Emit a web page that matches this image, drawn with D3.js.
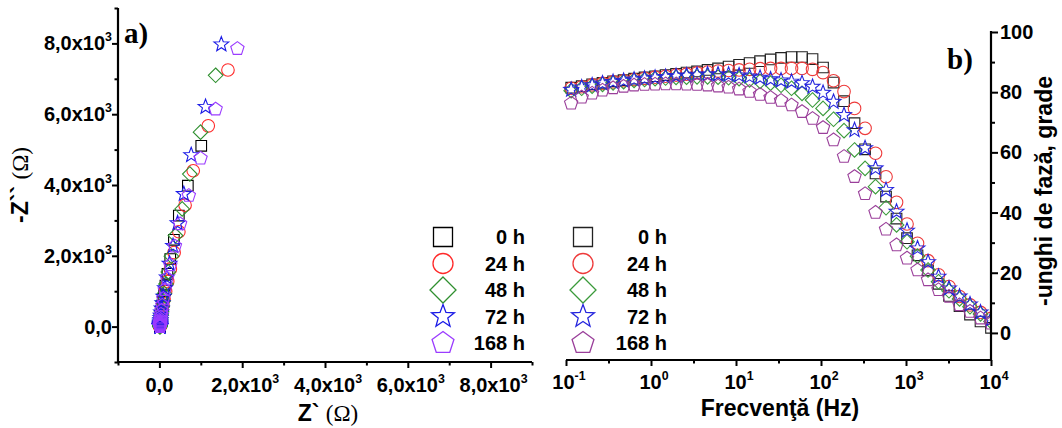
<!DOCTYPE html>
<html><head><meta charset="utf-8">
<script src="https://cdn.jsdelivr.net/npm/d3@7"></script>
<style>
html,body{margin:0;padding:0;background:#fff;}
svg{display:block;}
text{font-family:"Liberation Sans",Arial,sans-serif;font-weight:bold;fill:#000;}
</style></head><body>
<svg id="chart" width="1062" height="428"></svg>
<script>
// ---- immersion times (legend) ----
const seriesNames = ["0 h", "24 h", "48 h", "72 h", "168 h"];
const seriesShapes = ["square", "circle", "diamond", "star", "pentagon"];
const colorsNyquist = ["#000000", "#ff2a2a", "#2f8f2f", "#1a1ae6", "#9b3cff"];
const colorsBode = ["#222222", "#ee3b3b", "#3a9a3a", "#2525dd", "#9a3f9a"];

// ---- a) Nyquist: Z' and -Z'' (ohm) ----
const zRe0h   = [1011, 687, 469, 350, 262, 195, 145, 108, 82, 62, 48, 38, 31, 26, 22, 20, 18, 17, 16, 15, 15, 14, 14, 14, 14, 14, 14, 14, 14, 14];
const zIm0h   = [5107, 3980, 3136, 2450, 1910, 1490, 1160, 905, 705, 550, 428, 334, 260, 203, 158, 123, 96, 75, 58, 45, 35, 27, 21, 16, 12, 8, 5, 3, 1, 0];
const zRe24h  = [1656, 1180, 817, 620, 470, 355, 265, 200, 150, 112, 85, 65, 50, 40, 32, 27, 23, 20, 18, 17, 16, 15, 15, 14, 14, 14, 14, 14, 14, 14];
const zIm24h  = [7248, 5671, 4403, 3430, 2680, 2090, 1630, 1275, 995, 778, 607, 474, 370, 289, 226, 176, 137, 107, 84, 65, 51, 40, 31, 24, 18, 13, 9, 6, 3, 1];
const zRe48h  = [1358, 994, 735, 550, 388, 290, 215, 160, 120, 90, 68, 52, 41, 33, 27, 23, 20, 18, 17, 16, 15, 15, 14, 14, 14, 14, 14, 14, 14, 14];
const zIm48h  = [7099, 5493, 4310, 3324, 2572, 1990, 1545, 1200, 930, 722, 560, 435, 338, 262, 204, 158, 123, 95, 74, 57, 44, 34, 26, 20, 15, 10, 7, 4, 2, 0];
const zRe72h  = [1496, 1115, 768, 590, 440, 330, 245, 180, 135, 100, 75, 56, 43, 34, 28, 24, 21, 19, 18, 17, 16, 15, 15, 14, 14, 14, 14, 14, 14, 14];
const zIm72h  = [7972, 6206, 4845, 3746, 2920, 2280, 1780, 1390, 1085, 845, 660, 515, 400, 312, 243, 189, 147, 114, 88, 68, 52, 40, 30, 22, 16, 11, 7, 4, 2, 0];
const zRe168h = [1884, 1358, 994, 711, 500, 375, 265, 185, 130, 95, 70, 52, 40, 32, 27, 23, 20, 18, 17, 16, 15, 15, 14, 14, 14, 14, 14, 14, 14, 14];
const zIm168h = [7851, 6141, 4752, 3699, 2900, 2270, 1740, 1360, 1040, 790, 600, 455, 345, 262, 199, 151, 115, 87, 66, 50, 38, 29, 22, 16, 12, 8, 5, 3, 1, 0];

// ---- b) Bode: frequency (Hz) and -phase angle (degrees) ----
const frequency = [0.115, 0.153, 0.203, 0.269, 0.358, 0.476, 0.632, 0.840, 1.117, 1.484, 1.972, 2.62, 3.48, 4.63, 6.15, 8.18, 10.87, 14.44, 19.19, 25.5, 33.88, 45.0, 59.8, 79.5, 105.7, 140.4, 186.6, 248, 330, 438, 582, 774, 1028, 1366, 1816, 2413, 3206, 4261, 5662, 7524, 10000];
const phase0h   = [81.5, 82.0, 82.6, 83.1, 83.6, 84.0, 84.5, 84.9, 85.3, 85.7, 86.1, 86.5, 86.9, 87.4, 87.9, 88.5, 89.1, 89.7, 90.3, 90.9, 91.4, 91.7, 91.7, 91.0, 88.2, 83.2, 77.0, 69.7, 61.0, 53.0, 45.3, 38.0, 31.5, 25.8, 20.8, 16.3, 12.3, 8.9, 6.1, 3.8, 1.7];
const phase24h  = [81.3, 81.8, 82.4, 82.9, 83.4, 83.8, 84.2, 84.6, 85.0, 85.3, 85.7, 86.0, 86.4, 86.7, 87.0, 87.2, 87.4, 87.6, 87.8, 87.9, 87.9, 87.9, 87.9, 87.6, 86.5, 83.8, 80.2, 74.6, 68.0, 59.7, 51.9, 43.4, 36.2, 29.8, 24.0, 19.3, 15.4, 12.1, 9.3, 6.8, 4.8];
const phase48h  = [80.5, 81.3, 82.0, 82.6, 83.1, 83.5, 83.9, 84.2, 84.5, 84.7, 84.9, 85.0, 85.1, 85.1, 85.0, 84.8, 84.5, 84.1, 83.6, 83.0, 82.3, 81.3, 79.6, 77.4, 74.6, 71.0, 67.2, 60.8, 54.7, 48.6, 41.6, 35.9, 30.3, 25.5, 20.9, 17.0, 14.0, 11.3, 8.7, 6.3, 3.8];
const phase72h  = [80.8, 81.6, 82.3, 82.9, 83.4, 83.8, 84.2, 84.5, 84.8, 85.1, 85.4, 85.6, 85.8, 85.9, 85.9, 85.8, 85.6, 85.2, 84.8, 84.3, 83.9, 83.5, 83.0, 81.8, 79.8, 76.8, 72.4, 67.4, 61.4, 54.7, 47.5, 40.3, 34.0, 28.1, 23.5, 18.7, 14.8, 12.1, 9.5, 6.8, 4.5];
const phase168h = [76.3, 78.3, 79.6, 80.6, 81.4, 81.9, 82.3, 82.5, 82.6, 82.7, 82.7, 82.6, 82.5, 82.3, 82.0, 81.6, 81.0, 80.2, 79.2, 78.2, 77.2, 75.7, 73.5, 71.2, 68.2, 64.1, 58.6, 51.9, 46.2, 40.0, 34.4, 29.2, 24.8, 20.9, 17.6, 14.3, 12.1, 9.3, 7.1, 4.9, 3.2];

// ---- tick labels ----
const nyqTicks = [0, 2000, 4000, 6000, 8000];
const nyqTickBase = ["0,0", "2,0x10", "4,0x10", "6,0x10", "8,0x10"];
const nyqTickExp = ["", "3", "3", "3", "3"];
const nyqMinor = [-1000, 1000, 3000, 5000, 7000, 9000];
const freqTicks = [0.1, 1, 10, 100, 1000, 10000];
const freqTickExp = ["-1", "0", "1", "2", "3", "4"];
const freqMinor = [0.316, 3.16, 31.6, 316, 3162];
const phaseTicks = [0, 20, 40, 60, 80, 100];
const phaseMinor = [10, 30, 50, 70, 90];

const nyqRe = [zRe0h, zRe24h, zRe48h, zRe72h, zRe168h];
const nyqIm = [zIm0h, zIm24h, zIm48h, zIm72h, zIm168h];
const phases = [phase0h, phase24h, phase48h, phase72h, phase168h];

// outline marker paths by radius
function symbolPath(shape, r) {
  if (shape === "square") return `M${-r},${-r}H${r}V${r}H${-r}Z`;
  if (shape === "circle") return `M${r},0A${r},${r} 0 1,1 ${-r},0A${r},${r} 0 1,1 ${r},0Z`;
  if (shape === "diamond") return `M0,${-r}L${r},0L0,${r}L${-r},0Z`;
  const pts = [];
  if (shape === "star") {
    for (let k = 0; k < 10; k++) {
      const a = -Math.PI / 2 + k * Math.PI / 5, rr = k % 2 ? r * 0.42 : r;
      pts.push([rr * Math.cos(a), rr * Math.sin(a)]);
    }
  } else {
    for (let k = 0; k < 5; k++) {
      const a = -Math.PI / 2 + k * 2 * Math.PI / 5;
      pts.push([r * Math.cos(a), r * Math.sin(a)]);
    }
  }
  return "M" + pts.map(p => p[0].toFixed(2) + "," + p[1].toFixed(2)).join("L") + "Z";
}
const markerR = {square: 5.3, circle: 6.3, diamond: 7.3, star: 7.8, pentagon: 7};
const legendR = {square: 9.5, circle: 10, diamond: 13, star: 12, pentagon: 11.5};

const svg = d3.select("#chart");

function labelWithExp(g, x, y, base, exp, anchor, size) {
  const t = g.append("text").attr("x", x).attr("y", y).attr("text-anchor", anchor)
    .style("font-size", size + "px");
  t.append("tspan").text(base);
  if (exp) t.append("tspan").attr("dy", -9).style("font-size", (size * 0.62) + "px").text(exp);
  return t;
}

// ================= a) Nyquist =================
const xA = d3.scaleLinear().domain([-1000, 9000]).range([118, 532]);
const yA = d3.scaleLinear().domain([-1000, 9000]).range([362, 8]);
const gA = svg.append("g");

// points
seriesShapes.forEach((shape, s) => {
  const pts = nyqRe[s].map((re, i) => [re, nyqIm[s][i]]);
  gA.append("g").selectAll("path").data(pts).join("path")
    .attr("transform", d => `translate(${xA(d[0])},${yA(d[1])})`)
    .attr("d", symbolPath(shape, markerR[shape]))
    .attr("fill", "none").attr("stroke", colorsNyquist[s]).attr("stroke-width", 1.1);
});

// axes
gA.append("g").attr("transform", "translate(0,362)")
  .call(d3.axisBottom(xA).tickValues(nyqTicks).tickSize(6).tickSizeOuter(0).tickFormat(""))
  .call(g => g.select(".domain").remove());
gA.append("g").attr("transform", "translate(0,362)")
  .call(d3.axisBottom(xA).tickValues(nyqMinor).tickSize(3.5).tickSizeOuter(0).tickFormat(""))
  .call(g => g.select(".domain").remove());
gA.append("g").attr("transform", "translate(118,0)")
  .call(d3.axisLeft(yA).tickValues(nyqTicks).tickSize(6).tickSizeOuter(0).tickFormat(""))
  .call(g => g.select(".domain").remove());
gA.append("g").attr("transform", "translate(118,0)")
  .call(d3.axisLeft(yA).tickValues(nyqMinor).tickSize(3.5).tickSizeOuter(0).tickFormat(""))
  .call(g => g.select(".domain").remove());
gA.selectAll(".tick line").attr("stroke", "#000").attr("stroke-width", 2);
gA.append("line").attr("x1", 117).attr("x2", 532).attr("y1", 362).attr("y2", 362).attr("stroke", "#000").attr("stroke-width", 2.2);
gA.append("line").attr("x1", 118).attr("x2", 118).attr("y1", 8).attr("y2", 363).attr("stroke", "#000").attr("stroke-width", 2.2);

nyqTicks.forEach((v, i) => {
  labelWithExp(gA, xA(v) + (nyqTickExp[i] ? 3 : 0), 392, nyqTickBase[i], nyqTickExp[i], "middle", 20);
  labelWithExp(gA, 112, yA(v) + 7, nyqTickBase[i], nyqTickExp[i], "end", 20);
});

// titles
const tA = gA.append("text").attr("x", 328).attr("y", 421).attr("text-anchor", "middle").style("font-size", "23px");
tA.append("tspan").text("Z` ");
tA.append("tspan").style("font-family", "'Liberation Serif',serif").style("font-weight", "normal").text("(Ω)");
const tAy = gA.append("text").attr("transform", "translate(28,185) rotate(-90)").attr("text-anchor", "middle").style("font-size", "23px");
tAy.append("tspan").text("-Z`` ");
tAy.append("tspan").style("font-family", "'Liberation Serif',serif").style("font-weight", "normal").text("(Ω)");
gA.append("text").attr("x", 124).attr("y", 43).style("font-family", "'Liberation Serif',serif").style("font-size", "29px").text("a)");

// ================= b) Bode phase =================
const xB = d3.scaleLog().domain([0.1, 10000]).range([566, 991]);
const yB = d3.scaleLinear().domain([-9, 100]).range([360, 32]);
const gB = svg.append("g");
svg.append("defs").append("clipPath").attr("id", "clipB")
  .append("rect").attr("x", 540).attr("y", 0).attr("width", 451).attr("height", 360);

const plotB = gB.append("g").attr("clip-path", "url(#clipB)");
seriesShapes.forEach((shape, s) => {
  const pts = frequency.map((f, i) => [f, phases[s][i]]);
  plotB.append("g").selectAll("path").data(pts).join("path")
    .attr("transform", d => `translate(${xB(d[0])},${yB(d[1])})`)
    .attr("d", symbolPath(shape, markerR[shape]))
    .attr("fill", "none").attr("stroke", colorsBode[s]).attr("stroke-width", 1.1);
});

gB.append("g").attr("transform", "translate(0,360)")
  .call(d3.axisBottom(xB).tickValues(freqTicks).tickSize(6).tickSizeOuter(0).tickFormat(""))
  .call(g => g.select(".domain").remove());
gB.append("g").attr("transform", "translate(0,360)")
  .call(d3.axisBottom(xB).tickValues(freqMinor).tickSize(3.5).tickSizeOuter(0).tickFormat(""))
  .call(g => g.select(".domain").remove());
gB.append("g").attr("transform", "translate(991,0)")
  .call(d3.axisRight(yB).tickValues(phaseTicks).tickSize(7).tickSizeOuter(0).tickFormat(""))
  .call(g => g.select(".domain").remove());
gB.append("g").attr("transform", "translate(991,0)")
  .call(d3.axisRight(yB).tickValues(phaseMinor).tickSize(4).tickSizeOuter(0).tickFormat(""))
  .call(g => g.select(".domain").remove());
gB.selectAll(".tick line").attr("stroke", "#000").attr("stroke-width", 2);
gB.append("line").attr("x1", 566).attr("x2", 992).attr("y1", 360).attr("y2", 360).attr("stroke", "#000").attr("stroke-width", 2.2);
gB.append("line").attr("x1", 991).attr("x2", 991).attr("y1", 31).attr("y2", 361).attr("stroke", "#000").attr("stroke-width", 2.2);

freqTicks.forEach((v, i) => {
  labelWithExp(gB, xB(v) + 3, 389, "10", freqTickExp[i], "middle", 20);
});
phaseTicks.forEach(v => {
  gB.append("text").attr("x", 1000).attr("y", yB(v) + 7).style("font-size", "20px").text(v);
});

gB.append("text").attr("x", 780).attr("y", 416).attr("text-anchor", "middle").style("font-size", "23px").text("Frecvenţă (Hz)");
gB.append("text").attr("transform", "translate(1052,191) rotate(-90)").attr("text-anchor", "middle").style("font-size", "23px").text("-unghi de fază, grade");
gB.append("text").attr("x", 947).attr("y", 69).style("font-family", "'Liberation Serif',serif").style("font-size", "29px").text("b)");

// ================= legends =================
function legend(cx, textX, colors) {
  const g = svg.append("g");
  seriesNames.forEach((name, s) => {
    const y = 237 + s * 26.5;
    g.append("path").attr("transform", `translate(${cx},${y})`)
      .attr("d", symbolPath(seriesShapes[s], legendR[seriesShapes[s]]))
      .attr("fill", "none").attr("stroke", colors[s]).attr("stroke-width", 1.3);
    g.append("text").attr("x", textX).attr("y", y + 7).attr("text-anchor", "end").style("font-size", "20px").text(name);
  });
}
legend(443, 525, colorsNyquist);
legend(583, 667, colorsBode);
</script>
</body></html>
